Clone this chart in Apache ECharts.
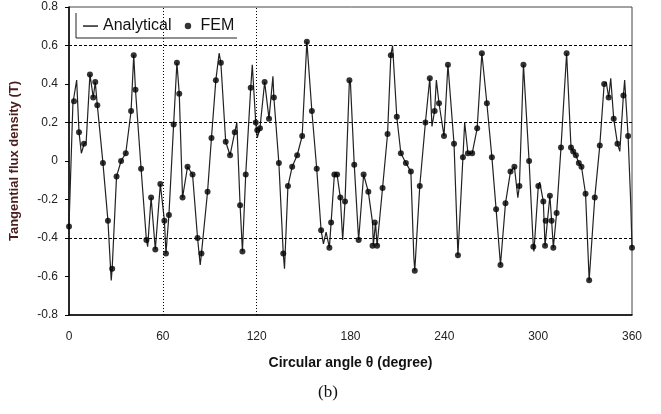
<!DOCTYPE html>
<html>
<head>
<meta charset="utf-8">
<script src="https://cdn.jsdelivr.net/npm/echarts@6/dist/echarts.min.js"></script>
<style>
  html, body { margin: 0; padding: 0; background: #fff; }
  #chart { width: 661px; height: 414px; }
</style>
</head>
<body>
<div id="chart"></div>
<script>
// analytical curve, [angle in degree, flux density in T]
const analytical = [
  [0,-0.34],[2.5,0.30],[3.2,0.31],[4.9,0.42],[6.4,0.15],[7.9,0.04],[9.6,0.087],[11,0.10],
  [13.4,0.45],[15.5,0.33],[16.8,0.41],[18.1,0.29],[21.7,-0.01],[24.9,-0.31],[27,-0.62],[27.6,-0.56],
  [30.4,-0.08],[33.3,0.0],[36.3,0.04],[39.7,0.26],[41.4,0.55],[42.5,0.37],[46.1,-0.04],[49.5,-0.41],
  [50.3,-0.445],[52.5,-0.19],[55.2,-0.46],[58.4,-0.12],[59.5,-0.13],[61,-0.31],[62,-0.48],[63.9,-0.28],
  [66.9,0.19],[69,0.51],[70.5,0.35],[72.6,-0.19],[75.8,-0.03],[79,-0.07],[82.2,-0.40],[83.9,-0.54],
  [84.7,-0.48],[88.6,-0.16],[91.1,0.12],[93.9,0.42],[96,0.56],[97.1,0.51],[100.2,0.10],[103,0.03],
  [106,0.15],[107.3,0.20],[109.4,-0.23],[110.9,-0.47],[113,-0.07],[116.2,0.38],[117.2,0.50],[119.4,0.20],
  [120.4,0.12],[122.1,0.17],[125.1,0.41],[127.9,0.22],[130.4,0.44],[131,0.33],[134.2,-0.01],[137,-0.48],
  [137.8,-0.56],[140,-0.13],[142.7,-0.03],[145.9,0.03],[149.1,0.13],[152.1,0.62],[155.3,0.26],[158.4,-0.04],
  [161.2,-0.36],[162.7,-0.43],[164.4,-0.37],[166.5,-0.45],[167.6,-0.32],[169.7,-0.07],[171.4,-0.07],[173.5,-0.19],
  [175,-0.41],[176.5,-0.21],[179.3,0.42],[180,0.40],[182.4,-0.02],[185.2,-0.41],[188.4,-0.07],[191.4,-0.16],
  [194.1,-0.32],[194.6,-0.44],[196,-0.32],[197,-0.44],[200.5,-0.14],[203.7,0.14],[205.8,0.55],[206.9,0.60],
  [209.6,0.23],[212.2,0.04],[215.4,-0.01],[218.6,-0.055],[220.5,-0.50],[221.1,-0.57],[224.3,-0.13],[227.9,0.20],
  [230.7,0.43],[232.1,0.18],[233.8,0.26],[234.9,0.42],[236.6,0.30],[239.8,0.13],[242.3,0.50],[246.2,0.09],
  [248.7,-0.49],[251.9,0.02],[253,0.20],[255.1,0.04],[257.8,0.04],[261,0.17],[264,0.56],[267.2,0.30],
  [270.4,0.02],[273.1,-0.25],[275.9,-0.54],[279.1,-0.22],[282.3,-0.055],[284.8,-0.03],[287,-0.19],[288,-0.13],
  [290.6,0.50],[294.2,0.0],[296.9,-0.445],[297.3,-0.47],[300.1,-0.13],[301,-0.11],[303.3,-0.21],[304.4,-0.44],
  [307.5,-0.18],[308.6,-0.31],[309.7,-0.45],[311.8,-0.27],[314.6,0.07],[318.2,0.56],[321,0.07],[322.4,0.05],
  [324.1,0.03],[326,-0.01],[327.7,-0.03],[330.3,-0.17],[332,-0.50],[332.6,-0.62],[336.2,-0.19],[339.4,0.08],
  [342.2,0.40],[343.5,0.41],[345.1,0.33],[346.4,0.43],[348.3,0.22],[350.7,0.09],[352.2,0.05],[354.5,0.34],
  [355.3,0.42],[357.5,0.13],[359.2,-0.22],[360,-0.45]
];

// FEM results
const fem = [
  [0,-0.34],[3.2,0.31],[6.4,0.15],[9.6,0.09],[13.4,0.45],[15.5,0.33],[16.8,0.41],[18.1,0.29],
  [21.7,-0.01],[24.9,-0.31],[27.6,-0.56],[30.4,-0.08],[33.3,0.0],[36.3,0.04],[39.7,0.26],[41.4,0.55],
  [42.5,0.37],[46.1,-0.04],[49.5,-0.41],[52.5,-0.19],[55.2,-0.46],[58.4,-0.12],[61,-0.31],[62,-0.48],
  [63.9,-0.28],[66.9,0.19],[69,0.51],[70.5,0.35],[72.6,-0.19],[75.8,-0.03],[79,-0.07],[82.2,-0.40],
  [84.7,-0.48],[88.6,-0.16],[91.1,0.12],[93.9,0.42],[97.1,0.51],[100.2,0.10],[103,0.03],[106,0.15],
  [109.4,-0.23],[110.9,-0.47],[113,-0.07],[116.2,0.38],[119.4,0.20],[120.4,0.16],[122.1,0.17],[125.1,0.41],
  [127.9,0.22],[131,0.33],[134.2,-0.01],[137,-0.48],[140,-0.13],[142.7,-0.03],[145.9,0.03],[149.1,0.13],
  [152.1,0.62],[155.3,0.26],[158.4,-0.04],[161.2,-0.36],[166.5,-0.45],[167.6,-0.32],[169.7,-0.07],[171.4,-0.07],
  [173.5,-0.19],[176.5,-0.21],[179.3,0.42],[182.4,-0.02],[185.2,-0.41],[188.4,-0.07],[191.4,-0.16],[194.1,-0.44],
  [195.5,-0.32],[197,-0.44],[200.5,-0.14],[203.7,0.14],[205.8,0.55],[209.6,0.23],[212.2,0.04],[215.4,-0.01],
  [218.6,-0.055],[221.1,-0.57],[224.3,-0.13],[227.9,0.20],[230.7,0.43],[233.8,0.26],[236.6,0.30],[239.8,0.13],
  [242.3,0.50],[246.2,0.09],[248.7,-0.49],[251.9,0.02],[255.1,0.04],[257.8,0.04],[261,0.17],[264,0.56],
  [267.2,0.30],[270.4,0.02],[273.1,-0.25],[275.9,-0.54],[279.1,-0.22],[282.3,-0.055],[284.8,-0.03],[288,-0.13],
  [290.6,0.50],[294.2,0.0],[296.9,-0.445],[300.1,-0.13],[303.3,-0.21],[304.4,-0.44],[304.8,-0.31],[307.5,-0.18],
  [308.6,-0.31],[309.7,-0.45],[311.8,-0.27],[314.6,0.07],[318.2,0.56],[321,0.07],[322.4,0.05],[324.1,0.03],
  [326,-0.01],[327.7,-0.03],[330.3,-0.17],[332.6,-0.62],[336.2,-0.19],[339.4,0.08],[342.2,0.40],[345.1,0.33],
  [348.3,0.22],[350.7,0.09],[354.5,0.34],[357.5,0.13],[360,-0.45]
];

// reference lines drawn in the original plot
const hGrid = [0.6, 0.2, -0.4];
const vGrid = [60, 120];

const font = 'Liberation Sans, Arial, sans-serif';

const chart = echarts.init(document.getElementById('chart'));

const option = {
  animation: false,
  backgroundColor: '#fff',
  grid: {
    left: 67, right: 29, top: 7, bottom: 99,
    show: true, borderColor: '#444', borderWidth: 1
  },
  legend: {
    left: 78, top: 13,
    itemGap: 9, itemWidth: 15, itemHeight: 10,
    textStyle: { fontFamily: font, fontSize: 16, color: '#111' },
    data: [
      // plain line icon (bounding box padded with move-to points)
      { name: 'Analytical', icon: 'path://M0,0 M0,4.3 L15,4.3 L15,5.8 L0,5.8 Z M15,10' },
      { name: 'FEM', icon: 'path://M0,0 M7.5,5 m-3.2,0 a3.2,3.2 0 1,0 6.4,0 a3.2,3.2 0 1,0 -6.4,0 M15,10' }
    ]
  },
  graphic: [
    {
      type: 'polyline',
      shape: { points: [[76, 13], [76, 38], [237, 38]] },
      style: { stroke: '#222', lineWidth: 1, fill: null },
      silent: true
    },
    {
      type: 'text',
      left: 318, top: 384,
      style: { text: '(b)', font: '17px "Liberation Serif", "Times New Roman", serif', fill: '#111' }
    }
  ],
  xAxis: {
    type: 'value',
    min: 0, max: 360, interval: 60,
    name: 'Circular angle θ (degree)',
    nameLocation: 'middle', nameGap: 41,
    nameTextStyle: { fontFamily: font, fontSize: 14, fontWeight: 'bold', color: '#111' },
    axisLine: { show: true, onZero: false, lineStyle: { color: '#000', width: 1.5 } },
    axisTick: { show: false },
    axisLabel: { fontFamily: font, fontSize: 12, color: '#222', margin: 16 },
    splitLine: { show: false }
  },
  yAxis: {
    type: 'value',
    min: -0.8, max: 0.8, interval: 0.2,
    name: 'Tangential flux density (T)',
    nameLocation: 'middle', nameGap: 48,
    nameTextStyle: { fontFamily: font, fontSize: 13, fontWeight: 'bold', color: '#4a1c1c' },
    axisLine: { show: true, onZero: false, lineStyle: { color: '#000', width: 1.5 } },
    axisTick: { show: true, length: 4, lineStyle: { color: '#000' } },
    axisLabel: {
      fontFamily: font, fontSize: 12, color: '#222', margin: 11,
      formatter: v => (Math.abs(v) < 1e-9 ? '0' : String(Math.round(v * 10) / 10))
    },
    splitLine: { show: false }
  },
  series: [
    {
      name: 'Analytical',
      type: 'line',
      data: analytical,
      symbol: 'none',
      lineStyle: { color: '#222', width: 1.2 },
      itemStyle: { color: '#222' },
      z: 3,
      markLine: {
        silent: true,
        symbol: 'none',
        label: { show: false },
        lineStyle: { color: '#000', type: [3, 2], width: 1 },
        data: hGrid.map(v => ({ yAxis: v })).concat(
          vGrid.map(v => ({ xAxis: v, lineStyle: { type: [1, 2], color: '#000', width: 1 } })))
      }
    },
    {
      name: 'FEM',
      type: 'scatter',
      data: fem,
      symbol: 'circle',
      symbolSize: 6,
      itemStyle: { color: '#000' },
      z: 4
    }
  ]
};

chart.setOption(option);
</script>
</body>
</html>
